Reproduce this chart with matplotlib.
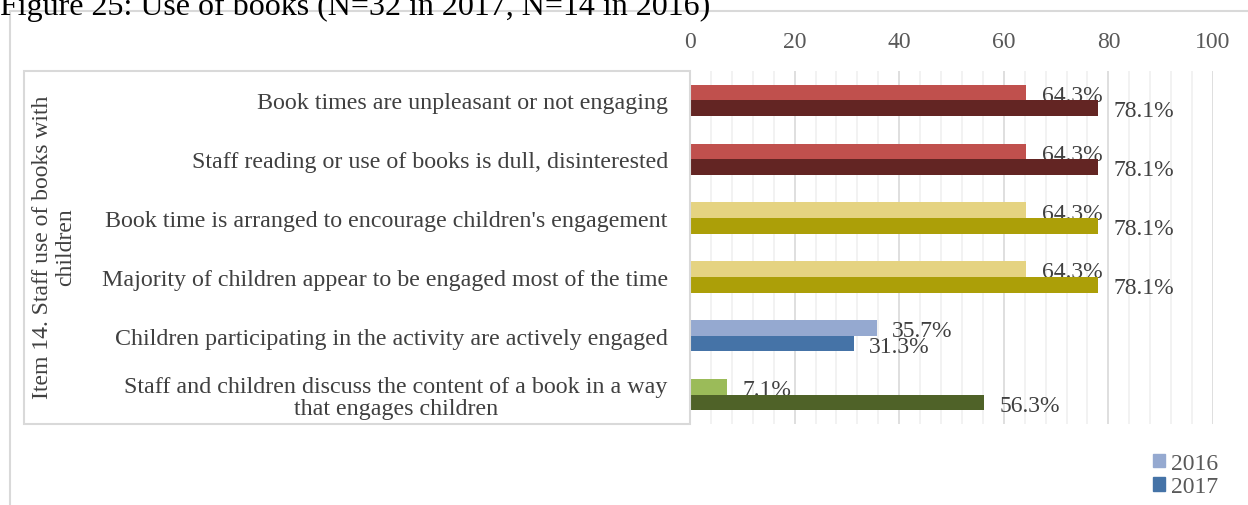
import matplotlib
matplotlib.use("Agg")
import matplotlib.pyplot as plt
from matplotlib.patches import Rectangle, Patch
from matplotlib.lines import Line2D
import numpy as np

plt.rcParams['font.family'] = ['Liberation Serif', 'DejaVu Serif']

# data
categories = [
    "Book times are unpleasant or not engaging",
    "Staff reading or use of books is dull, disinterested",
    "Book time is arranged to encourage children's engagement",
    "Majority of children appear to be engaged most of the time",
    "Children participating in the activity are actively engaged",
    "Staff and children discuss the content of a book in a way\nthat engages children",
]
vals_2016 = [64.3, 64.3, 64.3, 64.3, 35.7, 7.1]
vals_2017 = [78.1, 78.1, 78.1, 78.1, 31.3, 56.3]
years = ["2016", "2017"]
group_label = "Item 14. Staff use of books with\nchildren"
title = "Figure 25: Use of books (N=32 in 2017, N=14 in 2016)"

# per-row colours (light = 2016, dark = 2017)
colors_2016 = ["#C0504D", "#C0504D", "#E5D381", "#E5D381", "#95A9D0", "#9BBB59"]
colors_2017 = ["#632523", "#632523", "#AC9F08", "#AC9F08", "#4573A7", "#4F6228"]

W, H = 1248, 506
fs = 17
fig = plt.figure(figsize=(W / 100, H / 100), dpi=100)

# plot area in pixels: x 690..1213, y 72..425
x0, x1, y0, y1 = 690, 1213, 72, 425
ax = fig.add_axes([x0 / W, (H - y1) / H, (x1 - x0) / W, (y1 - y0) / H])

y = np.arange(len(categories))
bh = 0.265
ax.barh(y - bh / 2, vals_2016, height=bh, color=colors_2016, zorder=3)
ax.barh(y + bh / 2, vals_2017, height=bh, color=colors_2017, zorder=3)

txt_color = "#404040"
for yi, v in zip(y, vals_2016):
    ax.annotate(f"{v:.1f}%", (v, yi - bh / 2), xytext=(11, -2), textcoords="offset points",
                ha="left", va="center", fontsize=fs, color=txt_color, zorder=2,
                annotation_clip=False)
for yi, v in zip(y, vals_2017):
    ax.annotate(f"{v:.1f}%", (v, yi + bh / 2), xytext=(11, -2), textcoords="offset points",
                ha="left", va="center", fontsize=fs, color=txt_color, zorder=4,
                annotation_clip=False)

ax.set_xlim(0, 100)
ax.set_ylim(len(categories) - 0.5, -0.5)
ax.set_xticks(range(0, 101, 20))
ax.set_xticks(range(0, 101, 4), minor=True)
ax.set_axisbelow(True)
ax.grid(which="major", axis="x", color="#D9D9D9", lw=1.2)
ax.grid(which="minor", axis="x", color="#F0F0F0", lw=1.2)
ax.tick_params(axis="x", which="both", length=0, top=False, bottom=False,
               labeltop=True, labelbottom=False, pad=14, labelsize=fs, labelcolor="#595959")
ax.set_yticks(y, categories)
ax.tick_params(axis="y", length=0, pad=16, labelsize=17.3, labelcolor=txt_color)
for lbl in ax.get_yticklabels():
    lbl.set_multialignment("center")
    lbl.set_linespacing(1.05)
for s in ax.spines.values():
    s.set_visible(False)

# box around the category labels
fig.patches.append(Rectangle((24 / W, (H - y1) / H), (x0 - 24) / W, (y1 - y0) / H,
                             transform=fig.transFigure, fill=False,
                             edgecolor="#D9D9D9", lw=1.5))
fig.text(54 / W, 1 - 247 / H, group_label, rotation=90, ha="center", va="center",
         multialignment="center", fontsize=fs, color=txt_color, linespacing=1.1)

# outer chart frame
fig.add_artist(Line2D([10 / W, 10 / W, 1.0], [0.0, 1 - 12 / H, 1 - 12 / H],
                      transform=fig.transFigure, color="#D9D9D9", lw=1.5))

# title (cut by the top edge in the reference)
fig.text(0, 1 - 15 / H, title, ha="left", va="baseline", fontsize=23, color="black")

handles = [Patch(color="#95A9D0"), Patch(color="#4573A7")]
fig.legend(handles, years, loc="center right", bbox_to_anchor=(1230 / W, 1 - 476 / H),
           frameon=False, fontsize=fs, labelcolor="#595959", handlelength=0.5,
           handleheight=0.5, handletextpad=0.25, labelspacing=0.1, borderpad=0)

fig.savefig("out.png", dpi=100)
